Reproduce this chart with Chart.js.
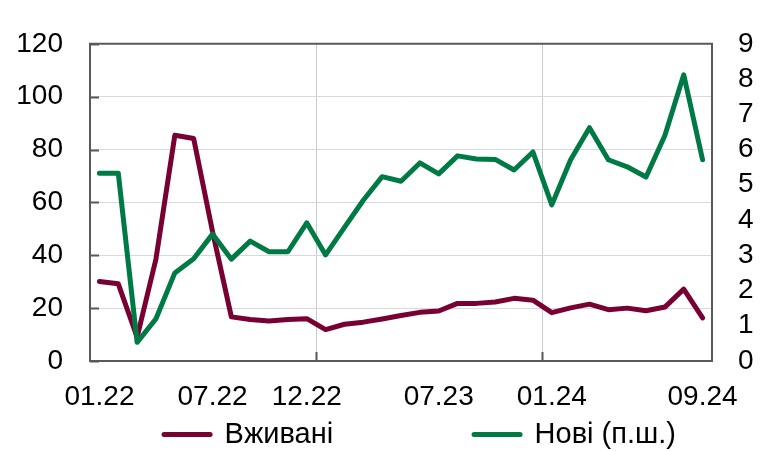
<!DOCTYPE html>
<html>
<head>
<meta charset="utf-8">
<script src="https://cdn.jsdelivr.net/npm/chart.js@4"></script>
<style>
  html, body { margin: 0; padding: 0; background: #ffffff; }
  #wrap { position: relative; width: 766px; height: 451px; }
</style>
</head>
<body>
<div id="wrap"><canvas id="c" width="766" height="451"></canvas></div>
<script>
// ---- data ----
const categories = [
  '01.22','02.22','03.22','04.22','05.22','06.22','07.22','08.22','09.22','10.22','11.22','12.22',
  '01.23','02.23','03.23','04.23','05.23','06.23','07.23','08.23','09.23','10.23','11.23','12.23',
  '01.24','02.24','03.24','04.24','05.24','06.24','07.24','08.24','09.24'
];
const shownLabels = ['01.22','07.22','12.22','07.23','01.24','09.24'];
const usedLabel = 'Вживані';
const newLabel = 'Нові (п.ш.)';
const usedValues = [
  30.1, 29.2, 9.0, 38.6, 85.4, 84.2, 49.0, 16.7, 15.7, 15.1, 15.7, 16.0,
  11.9, 13.9, 14.7, 15.9, 17.2, 18.4, 18.9, 21.8, 21.8, 22.3, 23.7, 23.0,
  18.3, 20.1, 21.5, 19.4, 20.0, 19.0, 20.4, 27.2, 16.3
];
const newValues = [
  5.33, 5.33, 0.53, 1.20, 2.50, 2.90, 3.60, 2.89, 3.40, 3.10, 3.10, 3.92,
  3.01, 3.79, 4.56, 5.23, 5.10, 5.62, 5.31, 5.82, 5.73, 5.72, 5.42, 5.93,
  4.43, 5.71, 6.62, 5.71, 5.51, 5.22, 6.40, 8.12, 5.71
];
const leftTicks = [0, 20, 40, 60, 80, 100, 120];
const rightTicks = [0, 1, 2, 3, 4, 5, 6, 7, 8, 9];
const yearBoundaries = ['01.23', '01.24'];

// ---- styles ----
const MAROON = '#790032';
const GREEN = '#007A45';
const FRAME = '#595959';
const FONT = 'Liberation Sans, Arial, sans-serif';
const TICK_FS = 28;
const LEG_FS = 29;

const framePlugin = {
  id: 'framePlugin',
  afterDraw(chart) {
    const ctx = chart.ctx;
    const a = chart.chartArea;
    const x = chart.scales.x, y = chart.scales.y;
    ctx.save();
    ctx.strokeStyle = FRAME;
    ctx.lineWidth = 2;
    ctx.beginPath();
    ctx.moveTo(a.left - 1, a.top);
    ctx.lineTo(a.right + 1, a.top);
    leftTicks.forEach(v => {
      const py = Math.round(y.getPixelForValue(v)) + 0.5;
      ctx.moveTo(a.left, py);
      ctx.lineTo(a.left + 9, py);
    });
    yearBoundaries.forEach(lbl => {
      const i = categories.indexOf(lbl);
      const px = Math.round((x.getPixelForTick(i) + x.getPixelForTick(i - 1)) / 2) + 0.5;
      ctx.moveTo(px, a.bottom);
      ctx.lineTo(px, a.bottom - 9);
    });
    ctx.stroke();
    ctx.restore();
  }
};

new Chart(document.getElementById('c'), {
  type: 'line',
  data: {
    labels: categories,
    datasets: [
      {
        label: usedLabel,
        data: usedValues,
        yAxisID: 'y',
        borderColor: MAROON,
        backgroundColor: MAROON,
        borderWidth: 5,
        pointRadius: 0,
        tension: 0,
        borderJoinStyle: 'round',
        borderCapStyle: 'round',
        order: 1
      },
      {
        label: newLabel,
        data: newValues,
        yAxisID: 'y1',
        borderColor: GREEN,
        backgroundColor: GREEN,
        borderWidth: 5,
        pointRadius: 0,
        tension: 0,
        borderJoinStyle: 'round',
        borderCapStyle: 'round',
        order: 0
      }
    ]
  },
  plugins: [framePlugin],
  options: {
    responsive: false,
    animation: false,
    events: [],
    layout: { padding: { left: 7, right: -67, top: 22, bottom: -8 } },
    plugins: {
      tooltip: { enabled: false },
      legend: {
        position: 'bottom',
        labels: {
          color: '#000',
          font: { family: FONT, size: LEG_FS },
          usePointStyle: true,
          pointStyleWidth: 46,
          padding: 12,
          generateLabels() {
            return [
              { text: usedLabel, fillStyle: MAROON, strokeStyle: MAROON, lineWidth: 5, lineCap: 'round', pointStyle: 'line', hidden: false, datasetIndex: 0 },
              { text: '\u00a0\u00a0\u00a0\u00a0\u00a0\u00a0\u00a0', fillStyle: 'rgba(0,0,0,0)', strokeStyle: 'rgba(0,0,0,0)', lineWidth: 0, pointStyle: 'line', hidden: false },
              { text: newLabel, fillStyle: GREEN, strokeStyle: GREEN, lineWidth: 5, lineCap: 'round', pointStyle: 'line', hidden: false, datasetIndex: 1 }
            ];
          }
        }
      }
    },
    scales: {
      x: {
        type: 'category',
        offset: true,
        afterFit(s) { s.height = 47; },
        grid: {
          offset: true,
          drawTicks: false,
          color: (c) => {
            const lbl = categories[c.index];
            return yearBoundaries.includes(lbl) ? '#c8ccd1' : 'rgba(0,0,0,0)';
          },
          lineWidth: 1
        },
        border: { color: FRAME, width: 2 },
        ticks: {
          autoSkip: false,
          maxRotation: 0,
          minRotation: 0,
          padding: 19,
          color: '#000',
          font: { family: FONT, size: TICK_FS },
          callback: function (v, i) {
            const lbl = categories[i];
            return shownLabels.includes(lbl) ? lbl : '';
          }
        }
      },
      y: {
        position: 'left',
        min: leftTicks[0],
        max: leftTicks[leftTicks.length - 1],
        afterFit(s) { s.width = 83; },
        afterBuildTicks(s) { s.ticks = leftTicks.map(v => ({ value: v })); },
        grid: { color: '#d9d9d9', lineWidth: 1, drawTicks: false },
        border: { color: FRAME, width: 2 },
        ticks: {
          autoSkip: false,
          padding: 27,
          color: '#000',
          font: { family: FONT, size: TICK_FS }
        }
      },
      y1: {
        position: 'right',
        min: rightTicks[0],
        max: rightTicks[rightTicks.length - 1],
        afterFit(s) { s.width = 121; },
        afterBuildTicks(s) { s.ticks = rightTicks.map(v => ({ value: v })); },
        grid: { drawOnChartArea: false, drawTicks: false },
        border: { color: FRAME, width: 2 },
        ticks: {
          autoSkip: false,
          padding: 26,
          color: '#000',
          font: { family: FONT, size: TICK_FS }
        }
      }
    }
  }
});
</script>
</body>
</html>
